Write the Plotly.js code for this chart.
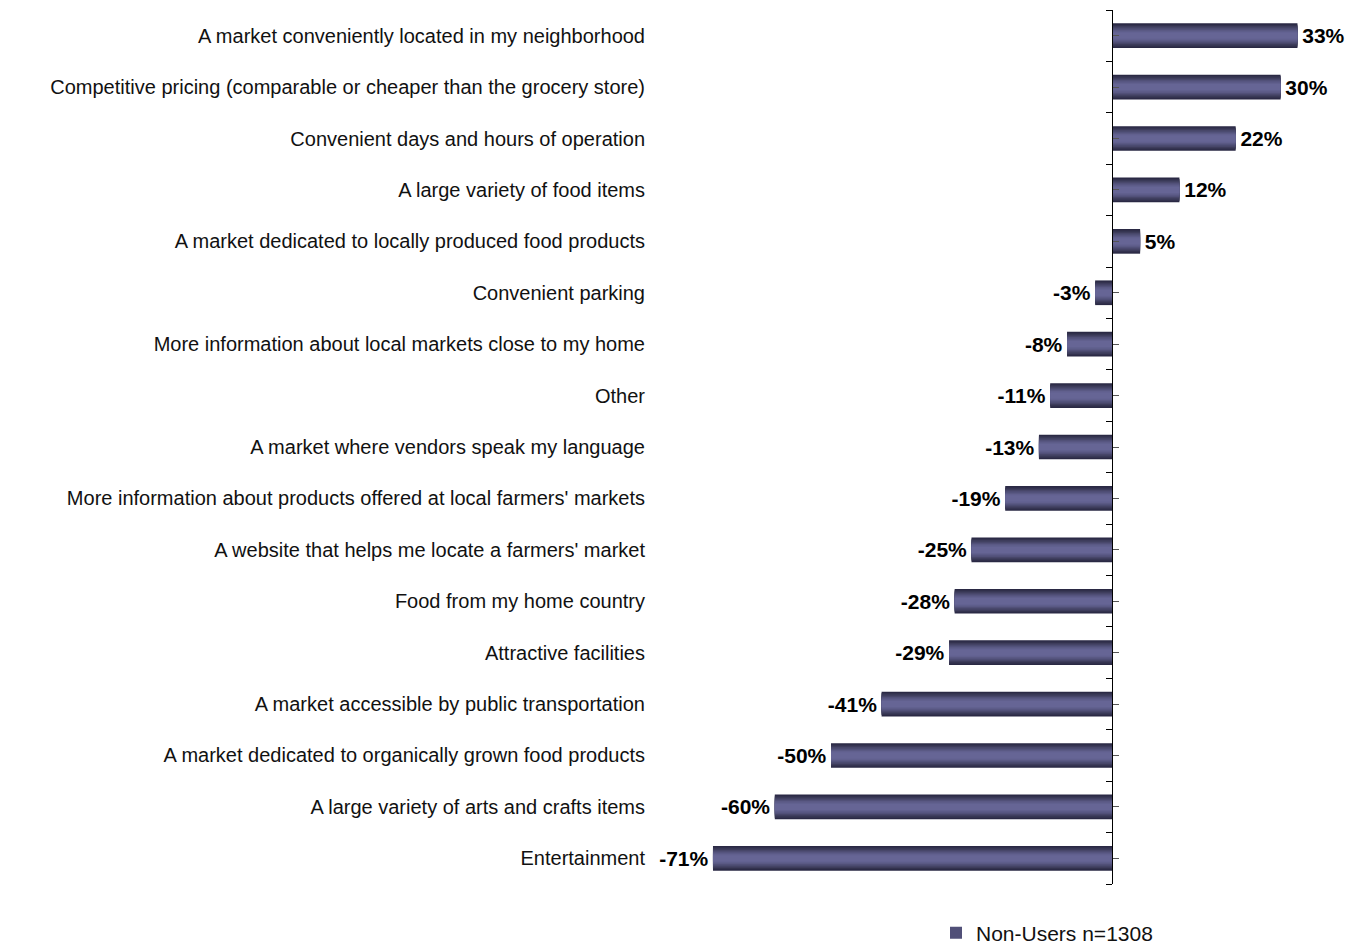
<!DOCTYPE html>
<html>
<head>
<meta charset="utf-8">
<script src="https://cdn.plot.ly/plotly-3.0.1.min.js"></script>
<style>html,body{margin:0;padding:0;background:#fff;}#chart{width:1355px;height:945px;}</style>
</head>
<body>
<div id="chart"></div>
<script>
// Data (top to bottom)
const categories = [
  "A market conveniently located in my neighborhood",
  "Competitive pricing (comparable or cheaper than the grocery store)",
  "Convenient days and hours of operation",
  "A large variety of food items",
  "A market dedicated to locally produced food products",
  "Convenient parking",
  "More information about local markets close to my home",
  "Other",
  "A market where vendors speak my language",
  "More information about products offered at local farmers' markets",
  "A website that helps me locate a farmers' market",
  "Food from my home country",
  "Attractive facilities",
  "A market accessible by public transportation",
  "A market dedicated to organically grown food products",
  "A large variety of arts and crafts items",
  "Entertainment"
];
const values = [33, 30, 22, 12, 5, -3, -8, -11, -13, -19, -25, -28, -29, -41, -50, -60, -71];
const seriesName = "Non-Users n=1308";

// Gradient simulation: overlaid bars of decreasing thickness
const layerColors = ["#2a2944", "#33324e", "#3d3c5b", "#474669", "#515078", "#5a5984", "#61608e", "#666595"];
const fullWidth = 0.48;
const legendLayer = 4;
const traces = [];
layerColors.forEach((c, i) => {
  const w = fullWidth * (1 - i / layerColors.length * 0.85);
  traces.push({
    type: "bar",
    orientation: "h",
    y: categories,
    x: values,
    width: w,
    marker: {color: c, line: {width: 0}},
    name: seriesName,
    showlegend: i === legendLayer,
    hoverinfo: "skip",
    text: i === 0 ? values.map(v => v >= 0 ? "\u200A" + v + "%" : v + "%\u200A") : undefined,
    textposition: i === 0 ? "outside" : "none",
    cliponaxis: false,
    textfont: {family: "Liberation Sans, Arial, sans-serif", size: 21, color: "#000", weight: "bold"}
  });
});
// invisible trace to anchor the axis-line y axis
traces.push({
  type: "scatter", x: [0], y: [0], yaxis: "y2", mode: "markers",
  marker: {opacity: 0}, showlegend: false, hoverinfo: "skip"
});

const L = 650, R = 1340, zeroPx = 1112, pxPer = 5.62;
const xMin = -(zeroPx - L) / pxPer;
const xMax = (R - zeroPx) / pxPer;
const n = categories.length;

const layout = {
  width: 1355, height: 945,
  margin: {l: L, r: 1355 - R, t: 10, b: 61},
  paper_bgcolor: "#fff", plot_bgcolor: "rgba(0,0,0,0)",
  barmode: "overlay",
  font: {family: "Liberation Sans, Arial, sans-serif", size: 20, color: "#111"},
  xaxis: {range: [xMin, xMax], visible: false, fixedrange: true},
  yaxis: {
    type: "category", autorange: "reversed", showline: false, ticks: "",
    showgrid: false, zeroline: false, tickfont: {size: 20, color: "#111"},
    ticklabelstandoff: 4
  },
  yaxis2: {
    overlaying: "y", anchor: "free", position: (zeroPx - L) / (R - L),
    side: "left", range: [n - 0.5, -0.5], showticklabels: false,
    showline: true, linecolor: "#000", linewidth: 1, showgrid: false, zeroline: false,
    ticks: "outside", ticklen: 6, tickcolor: "#000", tickwidth: 1,
    tickmode: "linear", tick0: -0.5, dtick: 1,
    minor: {ticks: "inside", ticklen: 6, tickcolor: "#555", tickwidth: 1, tick0: 0, dtick: 1, showgrid: false}
  },
  legend: {
    xref: "container", yref: "container", x: 936 / 1355, y: 1 - 933 / 945,
    xanchor: "left", yanchor: "middle", orientation: "h",
    font: {size: 21, color: "#111"}, bgcolor: "rgba(0,0,0,0)"
  },
  showlegend: true
};

Plotly.newPlot("chart", traces, layout, {displayModeBar: false, staticPlot: true});
</script>
</body>
</html>
